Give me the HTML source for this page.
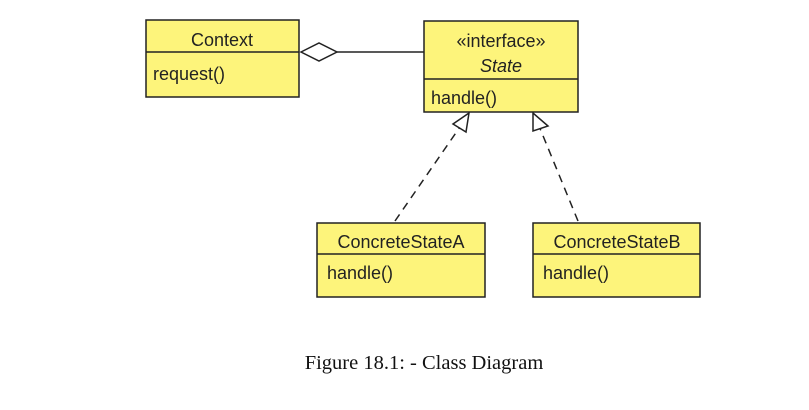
<!DOCTYPE html>
<html><head><meta charset="utf-8"><style>
body{margin:0;background:#fff;width:809px;height:405px;overflow:hidden}
svg text{font-family:"Liberation Sans",sans-serif;font-size:18px;fill:#222}
</style></head><body>
<svg width="809" height="405">
<g stroke="#222" stroke-width="1.5" fill="#fdf47b">
<rect x="146" y="20" width="153" height="77"/><line x1="146" y1="52" x2="299" y2="52"/></g>
<text x="222" y="46" text-anchor="middle">Context</text>
<text x="153" y="80">request()</text>

<g stroke="#222" stroke-width="1.5" fill="#fdf47b">
<rect x="424" y="21" width="154" height="91"/><line x1="424" y1="79" x2="578" y2="79"/></g>
<text x="501" y="47" text-anchor="middle">«interface»</text>
<text x="501" y="72" text-anchor="middle" font-style="italic">State</text>
<text x="431" y="104">handle()</text>

<g stroke="#222" stroke-width="1.5">
<polygon points="301,52 319,43 337,52 319,61" fill="#fff"/><line x1="337" y1="52" x2="424" y2="52"/></g>

<g stroke="#222" stroke-width="1.5" fill="#fdf47b">
<rect x="317" y="223" width="168" height="74"/><line x1="317" y1="254" x2="485" y2="254"/></g>
<text x="401" y="248" text-anchor="middle">ConcreteStateA</text>
<text x="327" y="279">handle()</text>

<g stroke="#222" stroke-width="1.5" fill="#fdf47b">
<rect x="533" y="223" width="167" height="74"/><line x1="533" y1="254" x2="700" y2="254"/></g>
<text x="617" y="248" text-anchor="middle">ConcreteStateB</text>
<text x="543" y="279">handle()</text>

<g stroke="#222" stroke-width="1.5" fill="#fff">
<line x1="395" y1="221" x2="462" y2="124" stroke-dasharray="8,6"/>
<polygon points="469,113 453,124 466,132"/></g>
<g stroke="#222" stroke-width="1.5" fill="#fff">
<line x1="578" y1="221" x2="539" y2="126" stroke-dasharray="8,6"/>
<polygon points="533,113 533,131 548,126"/></g>

<text x="424" y="369" text-anchor="middle" style="font-family:'Liberation Serif',serif;font-size:20.5px;fill:#111">Figure 18.1: - Class Diagram</text>
</svg>
</body></html>
